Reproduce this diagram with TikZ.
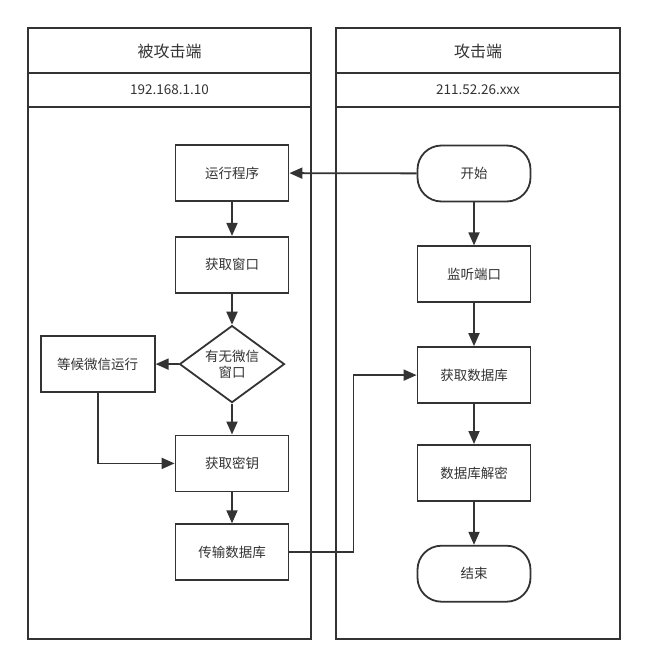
\documentclass[tikz,border=0pt]{standalone}
\usepackage{fontspec}
\setmainfont{Noto Sans CJK SC}
\usetikzlibrary{arrows.meta,positioning,shapes.geometric}
\definecolor{cLine}{HTML}{333333}
\tikzset{
  box/.style={draw=cLine, line width=1.8pt, fill=white, text=cLine, align=center,
              font=\fontsize{13.5}{16}\selectfont, minimum width=113pt, minimum height=56pt, inner sep=2pt},
  term/.style={box, rounded corners=24pt},
  dec/.style={diamond, aspect=1.36, draw=cLine, line width=1.8pt, fill=white, text=cLine, align=center,
              font=\fontsize{13.5}{16}\selectfont, minimum width=105pt, minimum height=77pt, inner sep=0pt},
  flow/.style={-{Triangle[length=13pt,width=11pt]}, line width=1.8pt, draw=cLine},
  lane/.style={draw=cLine, line width=1.8pt},
  head/.style={text=cLine, font=\fontsize{16}{18}\selectfont},
  ip/.style={text=cLine, font=\fontsize{13.5}{16}\selectfont},
}

\begin{document}
\begin{tikzpicture}[x=1pt, y=-1pt]
  \useasboundingbox (0,0) rectangle (647,669);
  % lanes
  \draw[lane] (28,28) rectangle (311,639);
  \draw[lane] (28,73) -- (311,73);
  \draw[lane] (28,107) -- (311,107);
  \draw[lane] (336,28) rectangle (620,639);
  \draw[lane] (336,73) -- (620,73);
  \draw[lane] (336,107) -- (620,107);
  \node[head] (lhead) at (169.5,51) {被攻击端};
  \node[ip] (lip) at (169.5,90) {192.168.1.10};
  \node[head] (rhead) at (478,51) {攻击端};
  \node[ip] (rip) at (478,90) {211.52.26.xxx};
  % victim side
  \node[box] (run) at (232,173) {运行程序};
  \node[box, below=34pt of run] (win) {获取窗口};
  \node[dec, below=31pt of win] (chk) {有无微信\\窗口};
  \node[box, below=31pt of chk] (key) {获取密钥};
  \node[box, below=31pt of key] (send) {传输数据库};
  \node[box, left=23pt of chk, minimum width=114pt] (wait) {等候微信运行};
  % attacker side
  \node[term] (start) at (474,173.5) {开始};
  \node[box, below=43pt of start] (listen) {监听端口};
  \node[box, below=43pt of listen] (get) {获取数据库};
  \node[box, below=40pt of get] (dec) {数据库解密};
  \node[term, below=43pt of dec] (stop) {结束};
  % connectors
  \draw[flow] (start) -- (run);
  \draw[flow] (run) -- (win);
  \draw[flow] (win) -- (chk);
  \draw[flow] (chk) -- (wait);
  \draw[flow] (chk) -- (key);
  \draw[flow] (wait.south) |- (key.west);
  \draw[flow] (key) -- (send);
  \draw[flow] (send.east) -- ++(64,0) |- (get.west);
  \draw[flow] (start) -- (listen);
  \draw[flow] (listen) -- (get);
  \draw[flow] (get) -- (dec);
  \draw[flow] (dec) -- (stop);
\end{tikzpicture}
\end{document}
